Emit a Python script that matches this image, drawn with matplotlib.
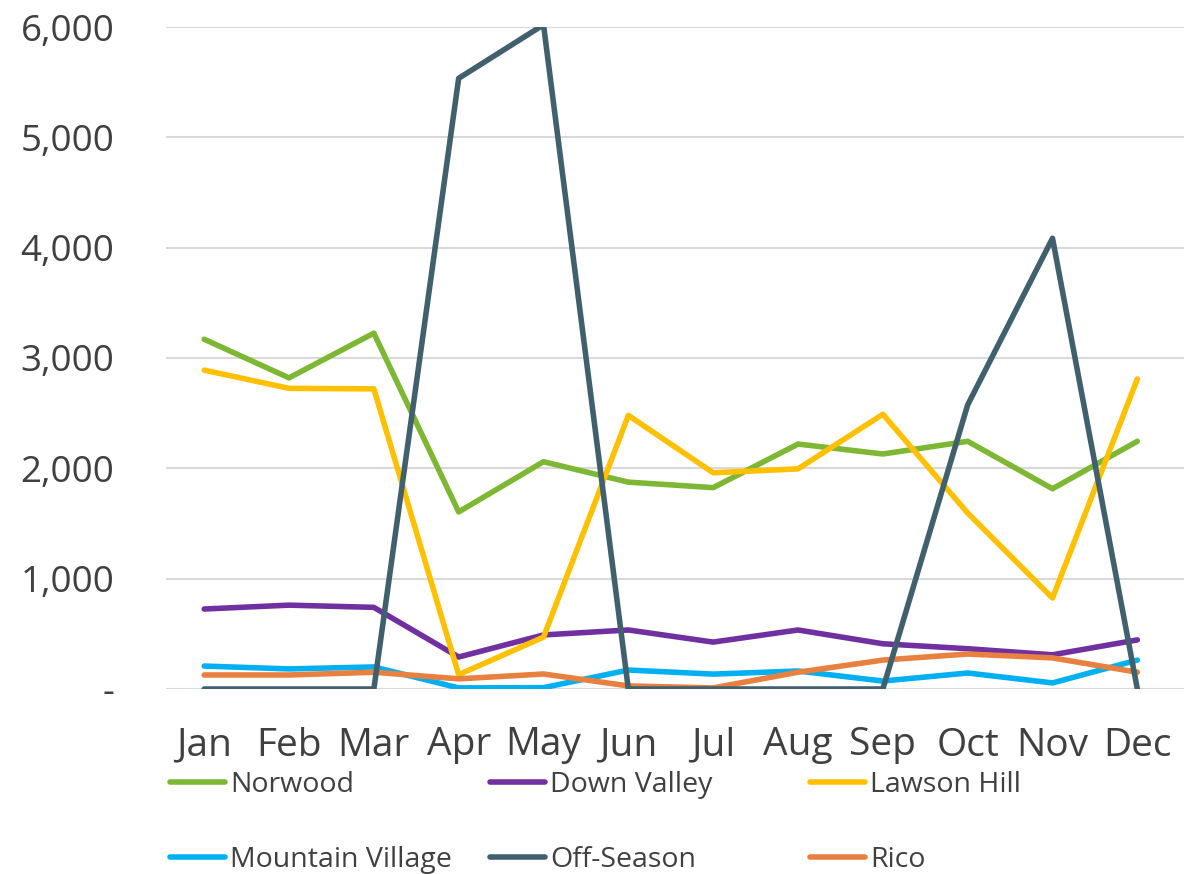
import matplotlib.pyplot as plt
from matplotlib.ticker import FuncFormatter

months = ['Jan', 'Feb', 'Mar', 'Apr', 'May', 'Jun',
          'Jul', 'Aug', 'Sep', 'Oct', 'Nov', 'Dec']

norwood = [3170, 2820, 3225, 1605, 2060, 1875, 1825, 2220, 2130, 2245, 1815, 2245]
down_valley = [725, 760, 740, 290, 490, 535, 425, 535, 410, 365, 310, 445]
lawson_hill = [2890, 2725, 2720, 130, 470, 2480, 1960, 1995, 2490, 1595, 825, 2810]
mountain_village = [208, 182, 200, 10, 12, 172, 135, 163, 72, 145, 55, 262]
off_season = [0, 0, 0, 5535, 6020, 0, 0, 0, 0, 2575, 4085, 0]
rico = [127, 127, 152, 92, 136, 28, 10, 152, 262, 317, 282, 152]

series = [
    ('Norwood', norwood, '#7db734'),
    ('Down Valley', down_valley, '#7030a0'),
    ('Lawson Hill', lawson_hill, '#ffc000'),
    ('Mountain Village', mountain_village, '#00b0f0'),
    ('Off-Season', off_season, '#41606e'),
    ('Rico', rico, '#e8803f'),
]
# dark line drawn last, it sits on top in the reference
draw_order = ['Norwood', 'Down Valley', 'Lawson Hill', 'Mountain Village', 'Rico', 'Off-Season']

plt.rcParams['font.family'] = ['Open Sans', 'DejaVu Sans']

fig = plt.figure(figsize=(11.99, 8.74), dpi=100)
ax = fig.add_axes([166 / 1199, 1 - 689 / 874, 1018 / 1199, 662 / 874])

x = range(len(months))
lines = {}
for name in draw_order:
    label, vals, col = next(s for s in series if s[0] == name)
    lines[name], = ax.plot(x, vals, color=col, lw=4, label=label,
                           solid_joinstyle='round', solid_capstyle='round')

ax.set_xlim(-0.45, 11.55)
ax.set_ylim(0, 6000)
ax.set_yticks(range(0, 6001, 1000))
ax.yaxis.set_major_formatter(FuncFormatter(lambda v, p: '-' if v == 0 else f'{v:,.0f}'))
ax.set_xticks(list(x))
ax.set_xticklabels(months)

ax.grid(axis='y', color='#d9d9d9', lw=1.5)
ax.set_axisbelow(True)
for sp in ax.spines.values():
    sp.set_visible(False)
ax.tick_params(length=0, colors='#404040')
ax.tick_params(axis='y', pad=37, labelsize=26.5)
ax.tick_params(axis='x', pad=27, labelsize=28)

# legend: three columns of two entries
cols = [['Norwood', 'Mountain Village'], ['Down Valley', 'Off-Season'], ['Lawson Hill', 'Rico']]
xpos = [170, 490, 810]
for names, xp in zip(cols, xpos):
    leg = fig.legend([lines[n] for n in names], names, loc='upper left',
                     bbox_to_anchor=(xp / 1199, 1 - 771 / 874), frameon=False,
                     fontsize=20.5, handlelength=1.93, handletextpad=0.18,
                     labelspacing=1.65, borderpad=0, borderaxespad=0)
    for t in leg.get_texts():
        t.set_color('#404040')

fig.savefig('out.png', dpi=100)
